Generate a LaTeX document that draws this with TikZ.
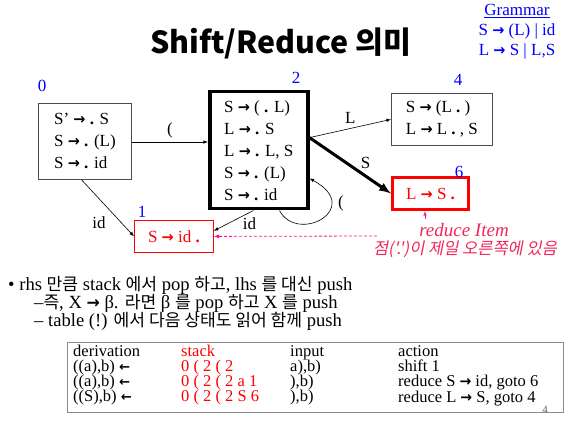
\documentclass[tikz,border=0pt]{standalone}
\usepackage{fontspec}
\setmainfont{Liberation Serif}
\newfontfamily\kr{Noto Sans CJK KR}[Scale=0.92]
\newfontfamily\krit{Noto Sans CJK KR}[FakeSlant=0.2]
\newfontfamily\arw{DejaVu Sans}
\usepackage{tikz}
\usetikzlibrary{arrows,positioning}

\definecolor{numblue}{RGB}{0,0,255}
\definecolor{itemred}{RGB}{255,0,0}
\definecolor{notered}{RGB}{240,40,90}
\definecolor{dashpink}{RGB}{255,20,140}

% bold arrow and bold dot of the items
\newcommand{\ra}{\scalebox{0.85}[0.9]{\arw\bfseries →}}
\newcommand{\la}{\scalebox{0.8}{\arw\bfseries ←}}
\newcommand{\dt}{\textbf{.}}

\tikzset{
  state/.style={draw=black!70, line width=0.8pt, anchor=north west, inner sep=0pt,
    align=left, font=\fontsize{17}{22}\selectfont},
  numlbl/.style={text=numblue, font=\fontsize{17}{17}\selectfont, inner sep=0pt},
  edgelbl/.style={font=\fontsize{17}{17}\selectfont, inner sep=1pt},
  col/.style={anchor=north west, align=left, inner sep=0pt, font=\fontsize{16.5}{15}\selectfont},
  bullet/.style={anchor=west, font=\fontsize{18.6}{18}\selectfont, inner sep=0pt},
}

\begin{document}
\begin{tikzpicture}[x=1pt, y=-1pt, >=latex]
\useasboundingbox (0,0) rectangle (570,422);

% title and grammar
\node[font=\kr\bfseries\fontsize{33}{33}\selectfont] (title) at (281,43) {Shift/Reduce 의미};
\node[text=numblue, align=center, font=\fontsize{17}{20}\selectfont] (gram) at (517,32)
  {\underline{Grammar}\\S \ra{} (L) | id\\L \ra{} S | L,S};

% states
\node[state, minimum width=93pt, minimum height=76pt] (n0) at (38,103)
  {S’ \ra{} \dt{} S\\S \ra{} \dt{} (L)\\S \ra{} \dt{} id};
\node[state, draw=black, line width=3.5pt, minimum width=98pt, minimum height=117pt] (n2) at (208,90)
  {S \ra{} ( \dt{} L)\\L \ra{} \dt{} S\\L \ra{} \dt{} L, S\\S \ra{} \dt{} (L)\\S \ra{} \dt{} id};
\node[state, minimum width=101pt, minimum height=52pt] (n4) at (391,93)
  {S \ra{} (L \dt{} )\\L \ra{} L \dt{} , S};
\node[state, draw=itemred, text=itemred, line width=3pt, minimum width=76pt, minimum height=32pt] (n6) at (391,176)
  {L \ra{} S \dt};
\node[state, draw=itemred, text=itemred, line width=0.8pt, minimum width=79pt, minimum height=32pt] (n1) at (134,220)
  {S \ra{} id \dt};

% state numbers
\node[numlbl] (l0) at (42,86) {0};
\node[numlbl] (l2) at (296,78) {2};
\node[numlbl] (l4) at (458,80) {4};
\node[numlbl] (l1) at (142,212) {1};
\node[numlbl] (l6) at (459,172) {6};

% transitions
\draw[->, line width=0.6pt] (n0.east |- 0,142) -- (n2.west |- 0,142) node[edgelbl, midway, above=3pt] (e02) {(};
\draw[->, line width=0.6pt] (n0.-95) -- (n1.west) node[edgelbl, pos=0.75, left=14pt] (e01) {id};
\draw[->, line width=0.6pt] (n2.-95) -- (n1.8) node[edgelbl, pos=0.3, below right=0pt] (e21) {id};
\draw[->, line width=0.6pt] (n2.14) -- (n4.west) node[edgelbl, midway, above=4pt] (e24) {L};
\draw[->, line width=3pt] (n2.14) -- (n6.west) node[edgelbl, pos=0.6, above right=0pt] (e26) {S};
\draw[->, line width=0.6pt] (n2.-71) .. controls +(18,34) and +(55,30) .. (n2.-29)
  node[edgelbl, pos=0.72, right=6pt] (e22) {(};

% reduce item note
\coordinate (dashend) at (377,236);
\draw[->, dashpink, dashed, line width=0.8pt, dash pattern=on 3pt off 2pt] (dashend) -- (n1.east);
\coordinate (ptr) at (425,219);
\draw[->, dashpink, line width=0.6pt] (ptr) -- (n6.south -| ptr);
\node[text=notered, inner sep=0pt, font=\itshape\fontsize{19}{19}\selectfont] (note1) at (464,230) {reduce Item};
\node[text=notered, inner sep=0pt, font=\krit\fontsize{16.5}{16.5}\selectfont] (note2) at (465,249) {점('.')이 제일 오른쪽에 있음};

% bullets
\node[bullet] (b1) at (8,285)
  {• rhs {\kr 만큼} stack {\kr 에서} pop {\kr 하고}, lhs {\kr 를 대신} push};
\node[bullet] (b2) at (34,303)
  {–{\kr 즉}, X \ra{} β. {\kr 라면} β {\kr 를} pop {\kr 하고} X {\kr 를} push};
\node[bullet] (b3) at (34,321)
  {– table (!) {\kr 에서 다음 상태도 읽어 함께} push};

% parsing table
\draw[black!45, line width=1pt] (67,342) rectangle (563,412);
\node[col] (cder) at (73,345) {derivation\\((a),b) \la\\((a),b) \la\\((S),b) \la};
\node[col, text=itemred] (cstk) at (181,345) {stack\\0 ( 2 ( 2\\0 ( 2 ( 2 a 1\\0 ( 2 ( 2 S 6};
\node[col] (cinp) at (290,345) {input\\a),b)\\),b)\\),b)};
\node[col] (cact) at (398,345) {action\\shift 1\\reduce S \ra{} id, goto 6\\reduce L \ra{} S, goto 4};
\node[text=black!60, font=\fontsize{11}{11}\selectfont] (pg) at (545,410) {4};
\end{tikzpicture}
\end{document}
